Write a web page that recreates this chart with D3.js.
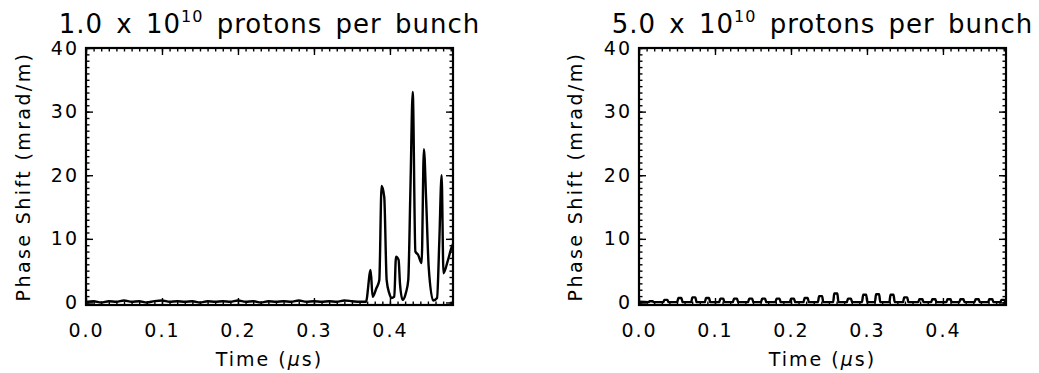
<!DOCTYPE html>
<html>
<head>
<meta charset="utf-8">
<script src="https://cdn.jsdelivr.net/npm/d3@7"></script>
<style>
  body { margin: 0; background: #fff; }
  svg { display: block; }
  text { font-family: "DejaVu Sans", sans-serif; fill: #000; }
</style>
</head>
<body>
<div id="chart"></div>
<script>
// axis ticks
const timeTicks = [0, 0.1, 0.2, 0.3, 0.4]
const shiftTicks = [0, 10, 20, 30, 40]
const panelTitles = ["1.0", "5.0"]

// 1.0e10 protons per bunch
const lowTime = [0, 0.01, 0.02, 0.03, 0.04, 0.05, 0.06, 0.07, 0.08, 0.09, 0.10, 0.11, 0.12, 0.13,
  0.14, 0.15, 0.16, 0.17, 0.18, 0.19, 0.20, 0.21, 0.22, 0.23, 0.24, 0.25, 0.26, 0.27, 0.28, 0.29,
  0.30, 0.31, 0.32, 0.33, 0.34, 0.35, 0.36,
  0.3684, 0.3746, 0.3772, 0.382, 0.386, 0.389, 0.3925, 0.3957, 0.399, 0.402, 0.4057, 0.408,
  0.4114, 0.4132, 0.4167, 0.421, 0.4241, 0.427, 0.430, 0.4335, 0.437, 0.4417, 0.4447, 0.4477,
  0.451, 0.457, 0.462, 0.465, 0.468, 0.4705, 0.476, 0.481, 0.483]
const lowShift = [0.1, 0.2, 0.0, 0.2, 0.1, 0.3, 0.1, 0.2, 0.0, 0.2, 0.3, 0.1, 0.2, 0.1,
  0.2, 0.0, 0.2, 0.1, 0.2, 0.1, 0.3, 0.1, 0.2, 0.0, 0.2, 0.1, 0.2, 0.1, 0.3, 0.1,
  0.2, 0.1, 0.2, 0.1, 0.3, 0.2, 0.1,
  0.1, 5.1, 0.9, 2.2, 3.5, 18.3, 16.6, 3.5, 1.5, 0.7, 0.9, 7.2,
  6.7, 3.0, 0.4, 1.5, 3.5, 18, 33.1, 8.0, 7.5, 6.2, 24.1, 16,
  5.6, 0.3, 0.7, 9.7, 20.0, 4.6, 6.5, 8.6, 9.2]

// 5.0e10 protons per bunch: one small pulse per bunch
const bunchTime = [0.016, 0.0354, 0.0538, 0.0722, 0.0902, 0.109, 0.127, 0.147, 0.164, 0.183,
  0.202, 0.220, 0.239, 0.259, 0.277, 0.297, 0.314, 0.333, 0.351, 0.371, 0.388, 0.408,
  0.425, 0.445, 0.463, 0.479]
const bunchShift = [0.2, 0.4, 0.7, 0.8, 0.7, 0.6, 0.6, 0.6, 0.6, 0.6,
  0.6, 0.7, 1.0, 1.4, 0.6, 1.2, 1.3, 1.2, 0.8, 0.5, 0.5, 0.5,
  0.5, 0.5, 0.5, 0.4]

let width = 1039, height = 373
let plotTop = 48, w = 367, h = 257

let svg = d3.select("#chart")
  .append("svg")
  .attr("width", width)
  .attr("height", height)

let lowData = lowTime.map((t, i) => [t, lowShift[i]])
let highData = [[0, 0.1]]
bunchTime.forEach((t, i) => {
  highData.push([t - 0.0035, 0.05], [t - 0.002, bunchShift[i]], [t + 0.002, bunchShift[i]], [t + 0.0035, 0.05])
})
highData.push([0.483, 0.1])

function panel(left, mant, data, yLabelX) {
  let g = svg.append("g").attr("transform", `translate(${left},${plotTop})`)
  let x = d3.scaleLinear().domain([0, 0.483]).range([0, w])
  let y = d3.scaleLinear().domain([-0.4, 40]).range([h, 0])

  //刻度
  let axes = [
    [d3.axisBottom(x).tickValues(timeTicks).tickFormat(d3.format(".1f")).tickPadding(19), `translate(0,${h})`, 7],
    [d3.axisBottom(x).ticks(48).tickFormat(""), `translate(0,${h})`, 3.5],
    [d3.axisTop(x).tickValues(timeTicks).tickFormat(""), "translate(0,0)", 7],
    [d3.axisTop(x).ticks(48).tickFormat(""), "translate(0,0)", 3.5],
    [d3.axisLeft(y).tickValues(shiftTicks).tickPadding(7), "translate(0,0)", 7],
    [d3.axisLeft(y).ticks(40).tickFormat(""), "translate(0,0)", 3.5],
    [d3.axisRight(y).tickValues(shiftTicks).tickFormat(""), `translate(${w},0)`, 7],
    [d3.axisRight(y).ticks(40).tickFormat(""), `translate(${w},0)`, 3.5]
  ]
  axes.forEach(([axis, tr, size]) => {
    let a = g.append("g")
      .attr("transform", tr)
      .call(axis.tickSize(-size))
    a.select(".domain").remove()
    a.selectAll("line").attr("stroke", "#000").attr("stroke-width", 1.4)
    a.selectAll("text")
      .attr("font-size", 19)
      .attr("font-family", "DejaVu Sans")
      .attr("letter-spacing", 2)
      .attr("fill", "#000")
  })

  //曲线
  let line = d3.line()
    .x((d) => x(d[0]))
    .y((d) => y(d[1]))
    .curve(d3.curveMonotoneX)
  g.append("path")
    .datum(data)
    .attr("d", line)
    .attr("fill", "none")
    .attr("stroke", "#000")
    .attr("stroke-width", 2.4)
    .attr("stroke-linejoin", "round")

  g.append("rect")
    .attr("width", w)
    .attr("height", h)
    .attr("fill", "none")
    .attr("stroke", "#000")
    .attr("stroke-width", 2.2)

  //标题
  let title = g.append("text")
    .attr("x", w / 2)
    .attr("y", 33 - plotTop)
    .attr("text-anchor", "middle")
    .attr("font-size", 26)
    .attr("letter-spacing", 1)
    .attr("word-spacing", 4)
  title.append("tspan").text(`${mant} x 10`)
  title.append("tspan").attr("font-size", 16).attr("dy", -11).text("10")
  title.append("tspan").attr("dy", 11).text(" protons per bunch")

  let xl = g.append("text")
    .attr("x", w / 2)
    .attr("y", 366 - plotTop)
    .attr("text-anchor", "middle")
    .attr("font-size", 19)
    .attr("letter-spacing", 2)
  xl.append("tspan").text("Time (")
  xl.append("tspan").attr("font-style", "italic").text("μ")
  xl.append("tspan").text("s)")

  g.append("text")
    .attr("transform", `translate(${yLabelX - left + 7},${h / 2}) rotate(-90)`)
    .attr("text-anchor", "middle")
    .attr("font-size", 19)
    .attr("letter-spacing", 2.4)
    .text("Phase Shift (mrad/m)")
}

panel(86, panelTitles[0], lowData, 23)
panel(639, panelTitles[1], highData, 575)
</script>
</body>
</html>
